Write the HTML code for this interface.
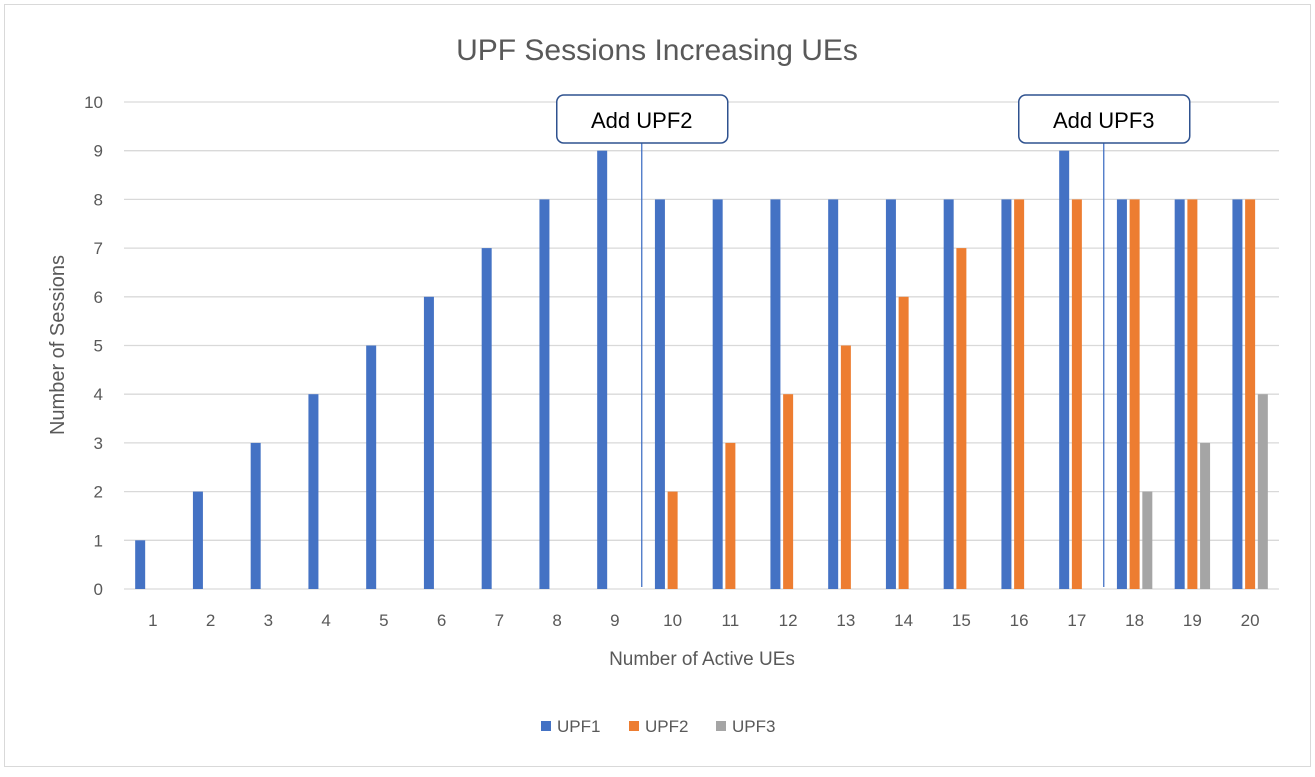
<!DOCTYPE html>
<html><head><meta charset="utf-8"><style>
body{margin:0;background:#fff;font-family:"Liberation Sans",sans-serif}
</style></head><body>
<svg id="chart" width="1315" height="772" xmlns="http://www.w3.org/2000/svg" font-family="Liberation Sans, sans-serif">
<rect x="4.5" y="4.5" width="1306" height="762" fill="#fff" stroke="#d9d9d9"/>
<text x="657" y="60" text-anchor="middle" font-size="30" fill="#595959">UPF Sessions Increasing UEs</text>
<text transform="translate(64,345) rotate(-90)" text-anchor="middle" font-size="20" fill="#595959">Number of Sessions</text>
<text x="702" y="665" text-anchor="middle" font-size="19" fill="#595959">Number of Active UEs</text>
<g id="grid"></g><g id="bars"></g><g id="ann"></g><g id="legend"></g>
</svg>
<script>
const categories=["1","2","3","4","5","6","7","8","9","10","11","12","13","14","15","16","17","18","19","20"];
const upf1=[1,2,3,4,5,6,7,8,9,8,8,8,8,8,8,8,9,8,8,8];
const upf2=[0,0,0,0,0,0,0,0,0,2,3,4,5,6,7,8,8,8,8,8];
const upf3=[0,0,0,0,0,0,0,0,0,0,0,0,0,0,0,0,0,2,3,4];
const yTicks=[0,1,2,3,4,5,6,7,8,9,10];
const seriesNames=["UPF1","UPF2","UPF3"];
const colors=["#4472c4","#ed7d31","#a5a5a5"];
const annotations=[{label:"Add UPF2",after:9},{label:"Add UPF3",after:17}];
const NS="http://www.w3.org/2000/svg";
const L=124,R=1279,T=102,B=589,ymax=10;
const bw=(R-L)/categories.length;
const y=v=>B-(B-T)*v/ymax;
const xc=i=>L+bw*(i+0.5);
function mk(tag,attrs,parent,text){const e=document.createElementNS(NS,tag);for(const k in attrs)e.setAttribute(k,attrs[k]);if(text!==undefined)e.textContent=text;parent.appendChild(e);return e;}
const grid=document.getElementById('grid');
yTicks.forEach(t=>{
 const l=mk('line',{x1:L,x2:R,y1:y(t),y2:y(t),stroke:'#d9d9d9','stroke-width':1.3},grid);
 
 
 const tx=mk('text',{x:L-21,y:y(t)+6,'text-anchor':'end','font-size':17,fill:'#595959'},grid,String(t));
 
 
});
categories.forEach((c,i)=>{
 const tx=mk('text',{x:xc(i),y:626,'text-anchor':'middle','font-size':17,fill:'#595959'},grid,c);
 
 
});
const bars=document.getElementById('bars');
[upf1,upf2,upf3].forEach((s,k)=>{
 s.forEach((v,i)=>{
  if(v<=0)return;
  const cx=xc(i)+(k-1)*12.7;
  const r=mk('rect',{x:cx-5,y:y(v),width:10,height:B-y(v),fill:colors[k]},bars);
  
  
 });
});
const ann=document.getElementById('ann');
annotations.forEach(a=>{
 const x=L+bw*a.after-2;
 const ln=mk('line',{x1:x,x2:x,y1:143,y2:587,stroke:'#4472c4','stroke-width':1.3},ann);
 
 
 const bx=mk('rect',{x:x-85,y:95,width:171,height:48,rx:7,fill:'#fff',stroke:'#2f528f','stroke-width':1.5},ann);
 
 
 const tx=mk('text',{x:x,y:128,'text-anchor':'middle','font-size':22,fill:'#000'},ann,a.label);
 
 
});
const lg=document.getElementById('legend');
const lx=[541,629,716];
seriesNames.forEach((n,k)=>{
 const r=mk('rect',{x:lx[k],y:721,width:10,height:10,fill:colors[k]},lg);
 
 
 const t=mk('text',{x:lx[k]+16,y:732,'font-size':17,fill:'#595959'},lg,n);
 
 
});
</script>
</body></html>
